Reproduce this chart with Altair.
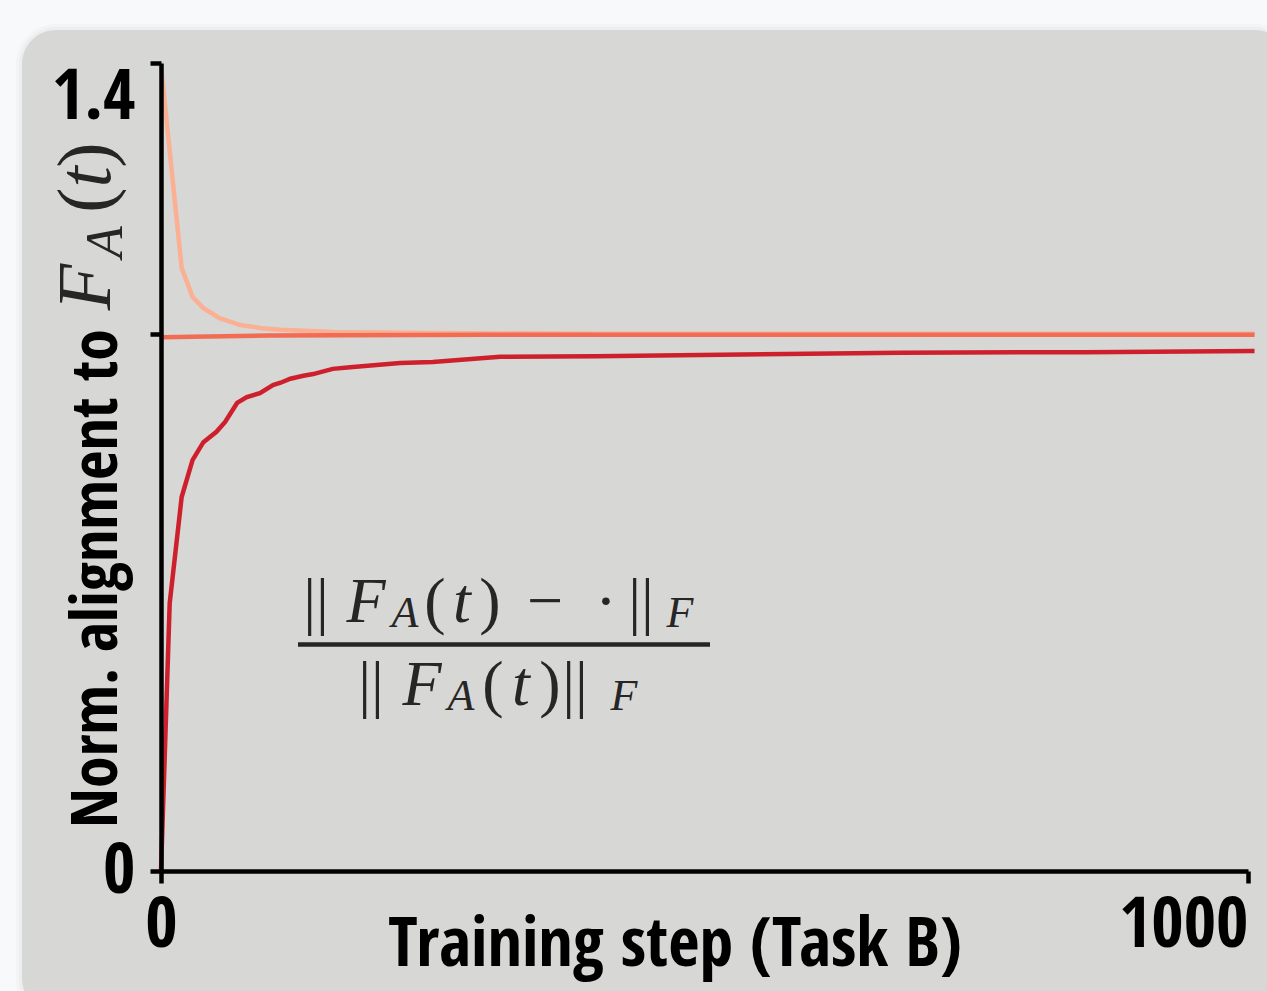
import altair as alt
import pandas as pd

# ---- series (training step, normalised alignment) ----
red_steps = [0, 8, 19, 29, 39, 51, 59, 70, 79, 91, 103, 110, 119, 131, 140, 158, 174,
             220, 250, 312, 400, 496, 680, 850, 1006]
red_vals = [0.0, 0.464, 0.648, 0.712, 0.743, 0.761, 0.778, 0.811, 0.821, 0.828, 0.842,
            0.846, 0.853, 0.858, 0.861, 0.870, 0.873, 0.880, 0.882, 0.891, 0.892, 0.894,
            0.898, 0.899, 0.901]

salmon_steps = [0, 19, 29, 39, 54, 73, 91, 110, 158, 250, 400, 1006]
salmon_vals = [1.395, 1.045, 0.995, 0.975, 0.958, 0.946, 0.941, 0.938, 0.934, 0.932,
               0.931, 0.931]

orange_steps = [0, 100, 300, 1006]
orange_vals = [0.925, 0.928, 0.929, 0.929]

x_ticks = [0, 1000]
y_ticks = [0, 0.93, 1.4]

SALMON = "#fbaf93"
ORANGE = "#f26c54"
RED = "#ce202c"
PANEL = "#d7d7d5"
PAGE = "#f8f9fb"
INK = "#262626"

COND = "Open Sans Condensed, Roboto Condensed, sans-serif"
SERIF = "Liberation Serif, DejaVu Serif, serif"

W, H = 1087, 808          # plot area
LEFT, TOP = 161, 63       # plot origin on the page

x_scale = alt.Scale(domain=[0, 1000], nice=False, zero=False)
y_scale = alt.Scale(domain=[0, 1.4], nice=False, zero=False)

x_axis = alt.Axis(
    values=x_ticks, title=None, grid=False, zindex=1, labelLimit=400,
    labelExpr="datum.value == 0 ? '0' : '1000'",
    domainColor="black", domainWidth=4.5, tickColor="black", tickWidth=4.5, tickSize=12,
    labelFont=COND, labelFontSize=70, labelFontWeight="bold", labelColor="black",
    labelPadding=8, labelBaseline="top",
    labelAlign={"condition": {"test": "datum.value >= 1000", "value": "right"}, "value": "center"},
)
y_axis = alt.Axis(
    values=y_ticks, title=None, grid=False, zindex=1, labelLimit=400,
    labelExpr="datum.value == 0 ? '0' : datum.value > 1.3 ? '1.4' : ''",
    domainColor="black", domainWidth=4.5, tickColor="black", tickWidth=4.5, tickSize=11,
    labelFont=COND, labelFontSize=70, labelFontWeight="bold", labelColor="black",
    labelPadding=15, labelAlign="right",
    labelBaseline={"condition": {"test": "datum.value > 1.3", "value": "top"}, "value": "middle"},
)


def series(steps, vals, color):
    df = pd.DataFrame({"step": steps, "value": vals})
    return alt.Chart(df).mark_line(color=color, strokeWidth=4.5, clip=False).encode(
        x=alt.X("step:Q", scale=x_scale, axis=x_axis),
        y=alt.Y("value:Q", scale=y_scale, axis=y_axis),
    )


one = pd.DataFrame({"k": [0]})


def box(x0, y0, x1, y1, color, opacity=1.0, radius=34):
    return alt.Chart(one).mark_rect(color=color, opacity=opacity, cornerRadius=radius).encode(
        x=alt.value(x0 - LEFT), x2=alt.value(x1 - LEFT),
        y=alt.value(y0 - TOP), y2=alt.value(y1 - TOP),
    )


def piece(txt, cx, base, size, italic=False, angle=0, font=SERIF, weight="normal",
          align="center", color=INK):
    """One text fragment; (cx, base) are page pixels of its anchor."""
    kw = dict(text=txt, font=font, fontSize=size, fontWeight=weight, align=align,
              baseline="alphabetic", color=color)
    if italic:
        kw["fontStyle"] = "italic"
    if angle:
        kw["angle"] = angle
    return alt.Chart(one).mark_text(**kw).encode(
        x=alt.value(cx - LEFT), y=alt.value(base - TOP)
    )


# rounded card behind the chart, with a faint soft edge
layers = [
    box(16, 24, 1295, 1020, "black", 0.018, 40),
    box(19, 27, 1292, 1016, "black", 0.025, 37),
    box(22, 30, 1289, 1012, PANEL, 1.0, 34),
]

layers += [
    series(salmon_steps, salmon_vals, SALMON),
    series(orange_steps, orange_vals, ORANGE),
    series(red_steps, red_vals, RED),
]

# x title
layers.append(piece("Training step (Task B)", 675, 966, 68, font=COND, weight="bold",
                    color="black"))
# rotated y title: bold words, then the math symbol F_A(t)
layers.append(piece("Norm. alignment to", 117, 828, 64, font=COND, weight="bold",
                    angle=270, align="left", color="black"))
layers += [
    piece("F", 110, 287, 76, italic=True, angle=270),
    piece("A", 122, 242, 52, italic=True, angle=270),
    piece("(", 110, 200, 76, angle=270),
    piece("t", 110, 177, 76, italic=True, angle=270),
    piece(")", 110, 155, 76, angle=270),
]

# fraction annotation: ||F_A(t) - .||_F / ||F_A(t)||_F
NUM, DEN, SUB = 622, 705, 5
MAIN, SMALL = 64, 44
layers += [
    piece("||", 316, NUM, MAIN),
    piece("F", 366, NUM, MAIN, italic=True),
    piece("A", 405, NUM + SUB, SMALL, italic=True),
    piece("(", 435, NUM, MAIN),
    piece("t", 462, NUM, MAIN, italic=True),
    piece(")", 490, NUM, MAIN),
    piece("\u2212", 545, NUM, MAIN),
    piece("\u00b7", 606, NUM, MAIN),
    piece("||", 641, NUM, MAIN),
    piece("F", 680, NUM + SUB, SMALL, italic=True),
    piece("||", 371, DEN, MAIN),
    piece("F", 422, DEN, MAIN, italic=True),
    piece("A", 461, DEN + SUB, SMALL, italic=True),
    piece("(", 493, DEN, MAIN),
    piece("t", 521, DEN, MAIN, italic=True),
    piece(")", 550, DEN, MAIN),
    piece("||", 575, DEN, MAIN),
    piece("F", 624, DEN + SUB, SMALL, italic=True),
]
layers.append(
    alt.Chart(one).mark_rule(color=INK, strokeWidth=4.5).encode(
        x=alt.value(298 - LEFT), x2=alt.value(710 - LEFT), y=alt.value(644.5 - TOP)
    )
)

chart = alt.layer(*layers).properties(
    width=W, height=H,
    autosize=alt.AutoSizeParams(type="none"),
    padding={"left": LEFT, "top": TOP, "right": 1267 - LEFT - W, "bottom": 991 - TOP - H},
    background=PAGE,
).configure_view(stroke=None)

chart.save("out.html", embed_options={"renderer": "svg", "actions": False})
